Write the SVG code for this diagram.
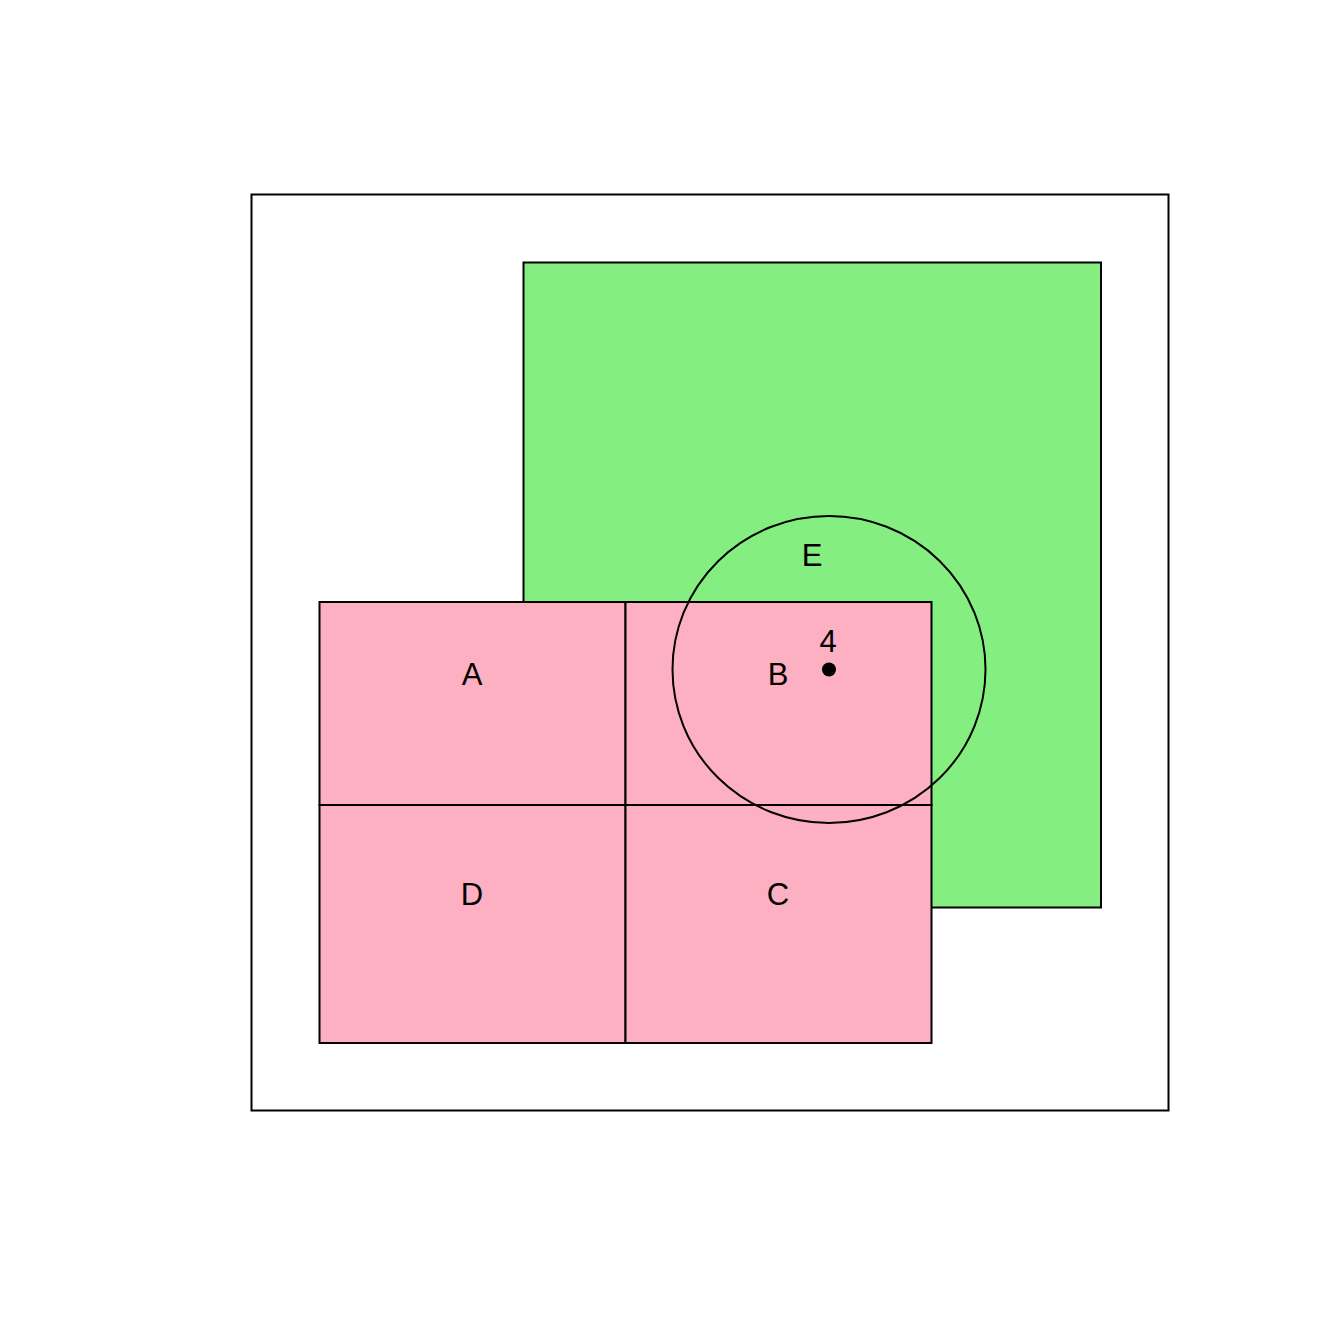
<svg xmlns="http://www.w3.org/2000/svg" width="1344" height="1344" viewBox="0 0 1344 1344">
<style>
.s{stroke:#000;stroke-width:2}
.t{font-family:"Liberation Sans",Arial,sans-serif;font-size:31px;text-anchor:middle;fill:#000}
</style>
<rect width="1344" height="1344" fill="#fff"/>
<g id="frame"><rect class="s" x="251.5" y="194.5" width="917" height="916" fill="none"/></g>
<g id="green"><rect class="s" x="523.5" y="262.5" width="577.5" height="645" fill="#84EF80"/></g>
<g id="A"><rect class="s" x="319.5" y="602" width="306" height="203" fill="#FCB0C1"/><text class="t" x="472" y="685">A</text></g>
<g id="B"><rect class="s" x="625.5" y="602" width="306" height="203" fill="#FCB0C1"/><text class="t" x="778" y="685">B</text></g>
<g id="D"><rect class="s" x="319.5" y="805" width="306" height="238" fill="#FCB0C1"/><text class="t" x="472" y="905">D</text></g>
<g id="C"><rect class="s" x="625.5" y="805" width="306" height="238" fill="#FCB0C1"/><text class="t" x="778" y="905">C</text></g>
<g id="E"><ellipse class="s" cx="829" cy="669.5" rx="156.5" ry="153.5" fill="none"/><text class="t" x="812" y="566">E</text></g>
<g id="point4"><circle cx="829" cy="669.5" r="7" fill="#000"/><text class="t" x="828" y="652">4</text></g>
</svg>
